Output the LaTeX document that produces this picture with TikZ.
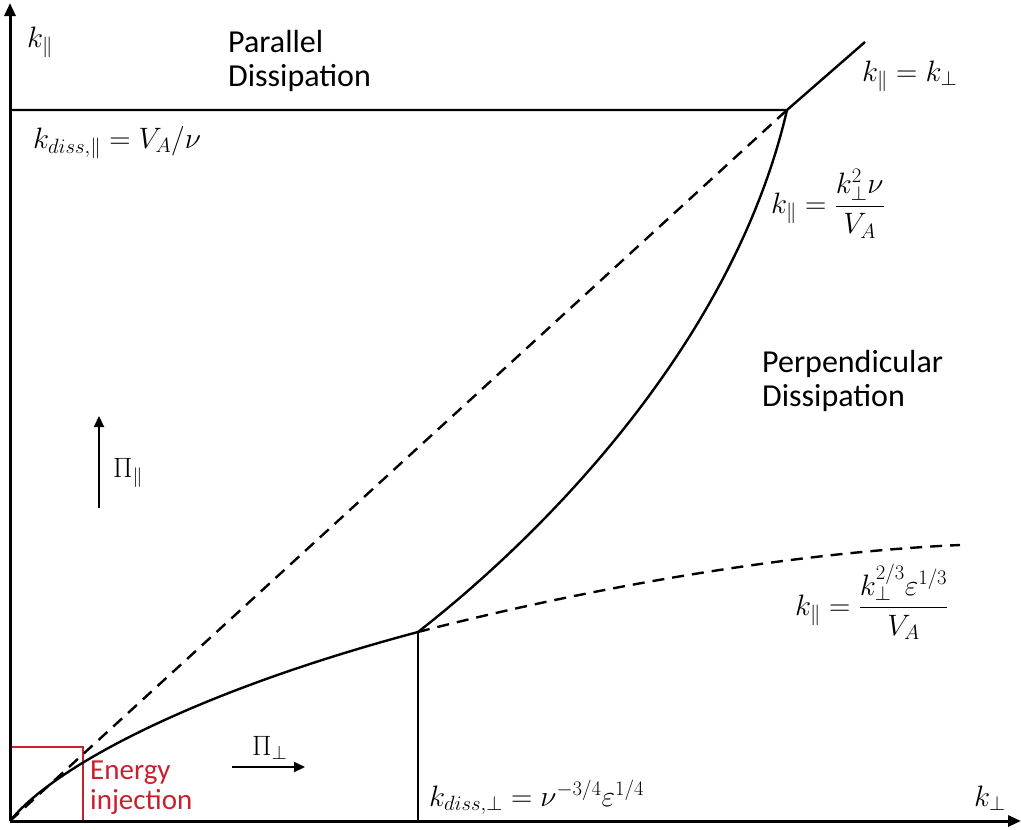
\RequirePackage{fix-cm}
\documentclass[tikz,border=0pt]{standalone}
\usepackage{fontspec}
\setsansfont{Carlito}
\usetikzlibrary{arrows.meta}
\definecolor{injred}{RGB}{200,32,45}
\begin{document}
\begin{tikzpicture}[x=1pt,y=-1pt,
  solidline/.style={line width=2.4pt},
  dashline/.style={line width=2.4pt, dash pattern=on 12pt off 8pt},
  axisline/.style={line width=3pt, -{Triangle[length=13pt,width=11pt]}},
  fluxarrow/.style={line width=2.2pt, -{Triangle[length=11pt,width=10pt]}},
  mathlbl/.style={font=\fontsize{29.5}{34}\selectfont, inner sep=0pt, anchor=base west},
  fraclbl/.style={font=\fontsize{29.5}{34}\selectfont, inner sep=0pt, anchor=west},
  fluxlbl/.style={font=\fontsize{28}{30}\selectfont, inner sep=0pt, anchor=base west},
  regionlbl/.style={font=\sffamily\fontsize{32}{34}\selectfont, inner sep=0pt, anchor=base west},
  redlbl/.style={font=\sffamily\fontsize{29}{30}\selectfont, text=injred, inner sep=0pt, anchor=base west},
  redbox/.style={line width=2pt, draw=injred}]
\useasboundingbox (0,0) rectangle (1021,830);
% key points
\coordinate (O) at (10,821);
\coordinate (Ytop) at (10,3);
\coordinate (Xend) at (1021,821);
\coordinate (H) at (10,110);
\coordinate (C) at (787,110);
\coordinate (E) at (865,42);
\coordinate (P) at (418,632);
\coordinate (Pb) at (418,821);
\coordinate (Q) at (960,545);
\coordinate (R1) at (10,747);
\coordinate (R2) at (83,747);
\coordinate (R3) at (83,821);
\coordinate (PiA1) at (99,508);
\coordinate (PiA2) at (99,416);
\coordinate (PiB1) at (232,767);
\coordinate (PiB2) at (305,767);
% red energy injection box
\draw[redbox] (R1) -- (R2) -- (R3);
% axes
\draw[axisline] (O) -- (Ytop);
\draw[axisline] (O) -- (Xend);
% boundaries
\draw[solidline] (H) -- (C) -- (E);
\draw[dashline] (O) -- (C);
\draw[solidline] (O) .. controls (55,765) and (200,690) .. (P);
\draw[solidline] (P) .. controls (555,525) and (735,335) .. (C);
\draw[dashline] (P) .. controls (600,585) and (800,552) .. (Q);
\draw[solidline] (P) -- (Pb);
% flux arrows
\draw[fluxarrow] (PiA1) -- (PiA2);
\draw[fluxarrow] (PiB1) -- (PiB2);
% labels
\node[mathlbl] (kpar) at (27,47) {$k_{\|}$};
\node[regionlbl] (par1) at (228,52) {Parallel};
\node[regionlbl] (par2) at (228,86) {Dissipation};
\node[mathlbl] (kdpar) at (33,148) {$k_{diss,\|}=V_A/\nu$};
\node[mathlbl] (keq) at (862,81) {$k_{\|}=k_{\perp}$};
\node[fraclbl] (kvisc) at (771,204) {$\displaystyle k_{\|}=\frac{k_{\perp}^{2}\nu}{V_A}$};
\node[regionlbl] (perp1) at (762,372) {Perpendicular};
\node[regionlbl] (perp2) at (762,406) {Dissipation};
\node[fraclbl] (kcb) at (795,602) {$\displaystyle k_{\|}=\frac{k_{\perp}^{2/3}\varepsilon^{1/3}}{V_A}$};
\node[mathlbl] (kdperp) at (429,806) {$k_{diss,\perp}=\nu^{-3/4}\varepsilon^{1/4}$};
\node[mathlbl] (kperp) at (974,806) {$k_{\perp}$};
\node[redlbl] (inj1) at (90,779) {Energy};
\node[redlbl] (inj2) at (90,809) {injection};
\node[fluxlbl] (pipar) at (113,477) {$\Pi_{\|}$};
\node[fluxlbl] (piperp) at (252,755) {$\Pi_{\perp}$};
\end{tikzpicture}
\end{document}
